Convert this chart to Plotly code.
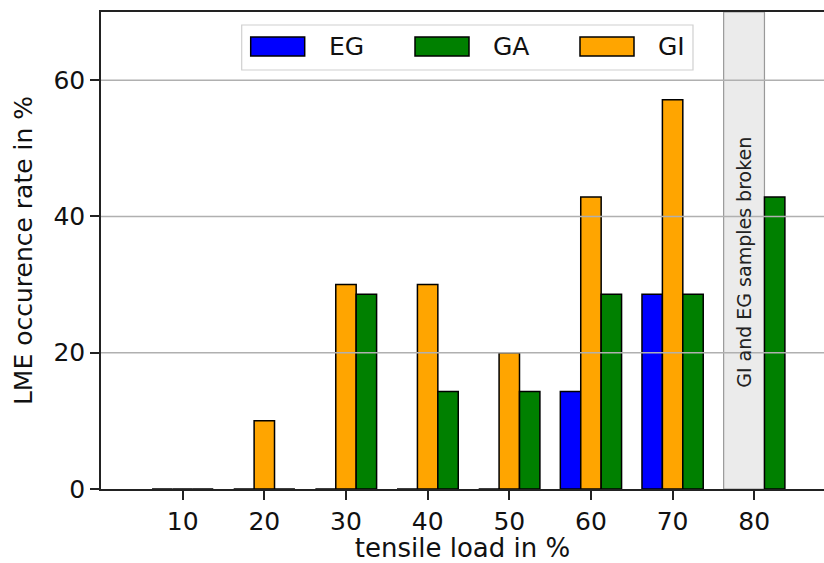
import plotly.graph_objects as go

loads = [10, 20, 30, 40, 50, 60, 70, 80]
eg = [0, 0, 0, 0, 0, 14.29, 28.57, None]
gi = [0, 10, 30, 30, 20, 42.86, 57.14, None]
ga = [0, 0, 28.57, 14.29, 14.29, 28.57, 28.57, 42.86]
series = [("EG", eg, "#0000ff", -3.75), ("GI", gi, "#ffa500", -1.25), ("GA", ga, "#008000", 1.25)]
legend_order = [("EG", "#0000ff"), ("GA", "#008000"), ("GI", "#ffa500")]
y_ticks = [0, 20, 40, 60]
broken_span = (76.25, 81.25)
broken_text = "GI and EG samples broken"

W, H = 824, 563
ML, MR, MT, MB = 101, 0, 12, 74
FONT = "DejaVu Sans"

fig = go.Figure()
for name, vals, col, off in series:
    fig.add_trace(go.Bar(x=loads, y=vals, name=name, width=2.5, offset=off,
                         marker=dict(color=col, line=dict(color="#000000", width=1.5)),
                         showlegend=False))

def px(xp):
    return (xp - ML) / (W - ML - MR)

def py(yp):
    return (H - MB - yp) / (H - MB - MT)

shapes = []
shapes.append(dict(type="rect", xref="x", yref="paper", x0=broken_span[0], x1=broken_span[1],
                   y0=0, y1=1, fillcolor="#ebebeb", line=dict(color="#999999", width=1.2),
                   layer="below"))
for t in y_ticks[1:]:
    shapes.append(dict(type="line", xref="paper", yref="y", x0=0, x1=1, y0=t, y1=t,
                       line=dict(color="#b0b0b0", width=1.5), layer="above"))
shapes.append(dict(type="rect", xref="paper", yref="paper", x0=px(241.7), x1=px(693),
                   y0=py(70), y1=py(25), fillcolor="rgba(255,255,255,0.85)",
                   line=dict(color="#d0d0d0", width=1.2), layer="above"))
annotations = []
sw_x = [250.7, 415, 580]
for (name, col), sx in zip(legend_order, sw_x):
    shapes.append(dict(type="rect", xref="paper", yref="paper", x0=px(sx), x1=px(sx + 54),
                       y0=py(56), y1=py(37), fillcolor=col,
                       line=dict(color="#000000", width=1.5), layer="above"))
    annotations.append(dict(text=name, xref="paper", yref="paper", x=px(sx + 76), y=py(46.5),
                            xanchor="left", yanchor="middle", showarrow=False,
                            font=dict(family=FONT, size=25, color="#111111")))

annotations.append(dict(text=broken_text, xref="x", yref="y", x=78.75, y=33.2, textangle=-90,
                        showarrow=False, xanchor="center", yanchor="middle",
                        font=dict(family=FONT, size=19, color="#222222")))

fig.update_layout(
    width=W, height=H, margin=dict(l=ML, r=MR, t=MT, b=MB),
    paper_bgcolor="white", plot_bgcolor="white", barmode="overlay",
    font=dict(family=FONT, size=25, color="#111111"),
    shapes=shapes, annotations=annotations,
    xaxis=dict(range=[0, 88.54], tickvals=loads, ticktext=[str(v) for v in loads],
               ticks="outside", ticklen=9, tickwidth=1.6, tickcolor="#222222",
               showline=True, linecolor="#222222", linewidth=1.6, mirror=True,
               showgrid=False, zeroline=False, automargin=False,
               title=dict(text="tensile load in %", standoff=14,
                          font=dict(family=FONT, size=26, color="#111111")),
               tickfont=dict(family=FONT, size=25, color="#111111")),
    yaxis=dict(range=[0, 70], tickvals=y_ticks, ticks="outside", ticklen=9, tickwidth=1.6,
               tickcolor="#222222", showline=True, linecolor="#222222", linewidth=1.6,
               showgrid=False, zeroline=False, automargin=False,
               title=dict(text="LME occurence rate in %", standoff=14,
                          font=dict(family=FONT, size=25, color="#111111")),
               tickfont=dict(family=FONT, size=25, color="#111111")),
)

fig.write_html("out.html")
